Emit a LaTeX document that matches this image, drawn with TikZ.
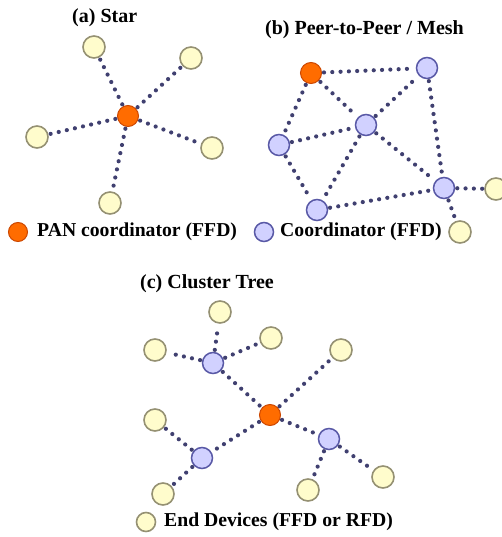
\documentclass[tikz,border=0pt]{standalone}
\usepackage{fontspec}
\setmainfont{Liberation Serif}
\begin{document}
\begin{tikzpicture}[x=1pt,y=-1pt,
  dev/.style={circle,draw=black!45!yellow!40!gray,fill=yellow!20!white,line width=1.6pt,minimum size=22pt,inner sep=0pt},
  crd/.style={circle,draw=blue!30!gray,fill=blue!18!white,line width=1.5pt,minimum size=21pt,inner sep=0pt},
  pan/.style={circle,draw=orange!70!red!80!black,fill=orange!85!red,line width=1pt,minimum size=21pt,inner sep=0pt},
  link/.style={draw=blue!25!black!75,line width=4.2pt,line cap=round,dash pattern=on 0pt off 8.3pt,shorten <=2pt,shorten >=2pt},
  ttl/.style={font=\bfseries\fontsize{20}{22}\selectfont,inner sep=0pt,anchor=west},
  lgd/.style={font=\bfseries\fontsize{19.7}{22}\selectfont,inner sep=0pt,anchor=west}]
\useasboundingbox (0,0) rectangle (502,537);
% (a) star
\node[ttl] (ta) at (72,18) {(a) Star};
\node[pan] (s0) at (128,116) {};
\node[dev] (s1) at (94,47) {};
\node[dev] (s2) at (191,58) {};
\node[dev] (s3) at (37,137) {};
\node[dev] (s4) at (212,148) {};
\node[dev] (s5) at (110,203) {};
\foreach \n in {s1,s2,s3,s4,s5} \draw[link] (s0) -- (\n);
% (b) mesh
\node[ttl] (tb) at (265,30) {(b) Peer-to-Peer / Mesh};
\node[pan] (m0) at (311,73) {};
\node[crd] (m1) at (427,68) {};
\node[crd] (m2) at (366,125) {};
\node[crd] (m3) at (279,145) {};
\node[crd] (m4) at (444,188) {};
\node[crd] (m5) at (317,210) {};
\node[dev] (m6) at (496,189) {};
\node[dev] (m7) at (460,232) {};
\draw[link] (m0)--(m1);
\draw[link] (m0)--(m2);
\draw[link] (m0)--(m3);
\draw[link] (m3)--(m2);
\draw[link] (m3)--(m5);
\draw[link] (m2)--(m1);
\draw[link] (m2)--(m5);
\draw[link] (m2)--(m4);
\draw[link] (m1)--(m4);
\draw[link] (m5)--(m4);
\draw[link] (m4)--(m6);
\draw[link] (m4)--(m7);
% legends of (a) and (b)
\node[pan,minimum size=19pt] (lp) at (18,232) {};
\node[lgd] (lpt) at (37,232) {PAN coordinator (FFD)};
\node[crd,minimum size=19pt] (lc) at (264,232) {};
\node[lgd] (lct) at (280,232) {Coordinator (FFD)};
% (c) cluster tree
\node[ttl] (tc) at (140,284) {(c) Cluster Tree};
\node[pan] (c0) at (270,415) {};
\node[crd] (c1) at (213,363) {};
\node[crd] (c2) at (202,458) {};
\node[crd] (c3) at (329,439) {};
\node[dev] (c4) at (220,312) {};
\node[dev] (c5) at (155,350) {};
\node[dev] (c6) at (271,338) {};
\node[dev] (c7) at (341,350) {};
\node[dev] (c8) at (155,420) {};
\node[dev] (c9) at (163,494) {};
\node[dev] (c10) at (308,490) {};
\node[dev] (c11) at (383,477) {};
\draw[link] (c1)--(c4);
\draw[link] (c1)--(c5);
\draw[link] (c1)--(c6);
\draw[link] (c1)--(c0);
\draw[link] (c0)--(c7);
\draw[link] (c0)--(c2);
\draw[link] (c0)--(c3);
\draw[link] (c2)--(c8);
\draw[link] (c2)--(c9);
\draw[link] (c3)--(c10);
\draw[link] (c3)--(c11);
\node[dev,minimum size=19pt] (le) at (146,522) {};
\node[lgd] (let) at (164,522) {End Devices (FFD or RFD)};
\end{tikzpicture}
\end{document}
